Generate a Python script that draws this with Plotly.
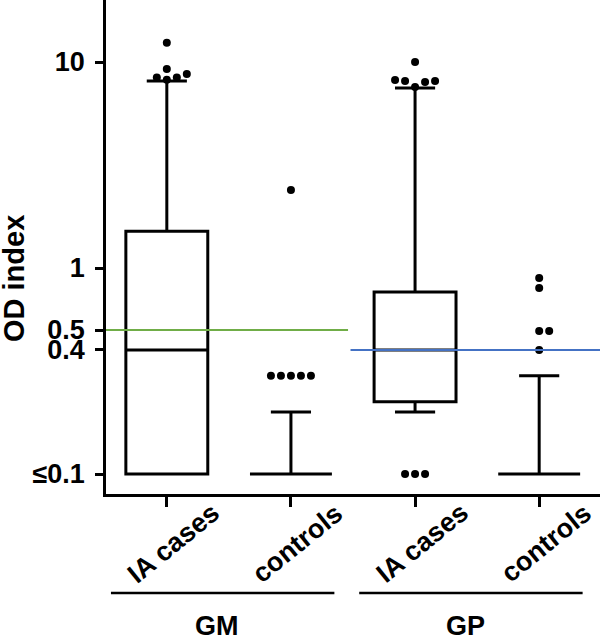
import numpy as np
import plotly.graph_objects as go

# ---- data ----
categories = ["IA cases", "controls", "IA cases", "controls"]
groups = ["GM", "GP"]
q1 = [0.1, 0.1, 0.224, 0.1]
median = [0.4, 0.1, 0.4, 0.1]
q3 = [1.51, 0.1, 0.765, 0.1]
lowerfence = [0.1, 0.1, 0.2, 0.1]
upperfence = [8.09, 0.2, 7.48, 0.3]
outliers_gm_ia = [8.2, 8.4, 8.4, 8.74, 9.25, 12.4]
outliers_gm_ctrl = [0.3, 0.3, 0.3, 0.3, 0.3, 2.39]
outliers_gp_ia = [0.1, 0.1, 0.1, 7.56, 8.0, 8.08, 8.08, 8.18, 10.0]
outliers_gp_ctrl = [0.4, 0.494, 0.494, 0.8, 0.894]
cutoff_gm = 0.5
cutoff_gp = 0.4
ytick_vals = [0.1, 0.4, 0.5, 1, 10]
ytick_text = ["≤0.1", "0.4", "0.5", "1", "10"]

outliers = [outliers_gm_ia, outliers_gm_ctrl, outliers_gp_ia, outliers_gp_ctrl]
pos = list(range(len(categories)))

# layout geometry
W, H = 600, 638
ML, MR, MT, MB = 106, 0, 0, 144
xr = [-0.49, 3.49]
yr = [-1.097, 1.301]
plot_w = W - ML - MR
plot_h = H - MT - MB
px_per_x = plot_w / (xr[1] - xr[0])
px_per_dec = plot_h / (yr[1] - yr[0])

FONT = "Liberation Sans, Arial, sans-serif"


def swarm(values, step_px=10.0, min_dist=9.5):
    """simple beeswarm: place points ascending, trying 0, +d, -d, +2d, ..."""
    placed = []
    offs = []
    for v in sorted(values):
        ypx = np.log10(v) * px_per_dec
        k = 0
        while True:
            cand = [0] if k == 0 else [k * step_px, -k * step_px]
            ok_c = None
            for c in cand:
                if all(np.hypot(c - px, ypx - py) >= min_dist for px, py in placed):
                    ok_c = c
                    break
            if ok_c is not None:
                placed.append((ok_c, ypx))
                offs.append((v, ok_c / px_per_x))
                break
            k += 1
    return offs


fig = go.Figure()

for i in pos:
    fig.add_trace(go.Box(
        x=[i], q1=[q1[i]], median=[median[i]], q3=[q3[i]],
        lowerfence=[lowerfence[i]], upperfence=[upperfence[i]],
        width=0.66, whiskerwidth=0.49, boxpoints=False,
        line=dict(color="black", width=3), fillcolor="rgba(255,255,255,0)",
        showlegend=False, hoverinfo="skip",
    ))

for i in pos:
    pts = swarm(outliers[i])
    fig.add_trace(go.Scatter(
        x=[i + o for v, o in pts], y=[v for v, o in pts],
        mode="markers", marker=dict(color="black", size=8),
        showlegend=False, hoverinfo="skip", cliponaxis=False,
    ))

shapes = [
    dict(type="line", xref="x", yref="y", x0=xr[0], x1=1.46, y0=cutoff_gm, y1=cutoff_gm,
         line=dict(color="#70ad47", width=2)),
    dict(type="line", xref="x", yref="y", x0=1.48, x1=xr[1], y0=cutoff_gp, y1=cutoff_gp,
         line=dict(color="#4472c4", width=2)),
]
bracket_y = 1 - (593 - MT) / plot_h
for g in range(len(groups)):
    a, b = 2 * g, 2 * g + 1
    shapes.append(dict(type="line", xref="x", yref="paper", x0=a - 0.45, x1=b + 0.35,
                       y0=bracket_y, y1=bracket_y, line=dict(color="black", width=2.5)))

annotations = []
lab_y = 1 - (543 - MT) / plot_h
for i in pos:
    annotations.append(dict(x=i, y=lab_y, xref="x", yref="paper", text="<b>%s</b>" % categories[i],
                            showarrow=False, textangle=-39, xanchor="center", yanchor="middle",
                            xshift=7, font=dict(family=FONT, size=27, color="black")))
grp_y = 1 - (626 - MT) / plot_h
for g in range(len(groups)):
    annotations.append(dict(x=2 * g + 0.5, y=grp_y, xref="x", yref="paper", text="<b>%s</b>" % groups[g],
                            showarrow=False, xanchor="center", yanchor="middle", xshift=-12,
                            font=dict(family=FONT, size=27, color="black")))
annotations.append(dict(x=(14 - ML) / plot_w, y=1 - (279 - MT) / plot_h, xref="paper", yref="paper",
                        text="<b>OD index</b>", showarrow=False, textangle=-90,
                        xanchor="center", yanchor="middle",
                        font=dict(family=FONT, size=29, color="black")))

fig.update_layout(
    width=W, height=H, margin=dict(l=ML, r=MR, t=MT, b=MB, autoexpand=False),
    paper_bgcolor="white", plot_bgcolor="white",
    shapes=shapes, annotations=annotations,
    xaxis=dict(range=xr, tickvals=pos, showticklabels=False, ticks="outside", ticklen=10,
               tickwidth=2.5, tickcolor="black", showline=True, linewidth=2.5, linecolor="black",
               showgrid=False, zeroline=False, automargin=False),
    yaxis=dict(type="log", range=yr, tickvals=ytick_vals, ticktext=ytick_text,
               ticks="outside", ticklen=8, tickwidth=2.5, tickcolor="black",
               showline=True, linewidth=2.5, linecolor="black", showgrid=False, zeroline=False,
               ticklabelstandoff=5, automargin=False,
               tickfont=dict(family=FONT, size=27, color="black", weight="bold")),
)

fig.write_html("out.html", config={"displayModeBar": False},
               post_script="document.body.style.margin='0';document.body.style.padding='0';")
